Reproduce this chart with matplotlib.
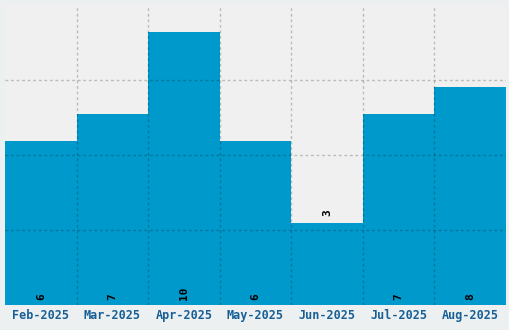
import matplotlib.pyplot as plt

months = ['Feb-2025', 'Mar-2025', 'Apr-2025', 'May-2025', 'Jun-2025', 'Jul-2025', 'Aug-2025']
counts = [6, 7, 10, 6, 3, 7, 8]

fig = plt.figure(figsize=(5.1, 3.3), dpi=100, facecolor='#ecf0f1')
ax = fig.add_axes([5 / 510, 1 - 305 / 330, 501 / 510, 300 / 330])
ax.set_facecolor('#f0f0f0')

x = range(len(months))
ax.bar(x, counts, width=1.0, color='#0099cc', zorder=1)
ax.set_xlim(-0.5, len(months) - 0.5)
ax.set_ylim(0, 11)

# dashed grid drawn over the bars
dash = (0, (2, 2))
for b in [i + 0.5 for i in range(len(months) - 1)]:
    ax.axvline(b, color='black', alpha=0.22, lw=1, ls=dash, zorder=2)
for g in [2.75, 5.5, 8.25]:
    ax.axhline(g, color='black', alpha=0.22, lw=1, ls=dash, zorder=2)

for i, v in enumerate(counts):
    y = v + 0.25 if v < 4 else 0.2
    ax.text(i, y, str(v), rotation=90, ha='center', va='bottom',
            family='DejaVu Sans Mono', fontweight='bold', fontsize=8, color='black', zorder=3)

ax.set_xticks(list(x))
ax.set_xticklabels(months, family='DejaVu Sans Mono', fontweight='bold', fontsize=8.5, color='#175f96')
ax.tick_params(axis='x', length=0, pad=3)
ax.set_yticks([])
for s in ax.spines.values():
    s.set_visible(False)

fig.savefig('out.png', dpi=100, facecolor=fig.get_facecolor())
